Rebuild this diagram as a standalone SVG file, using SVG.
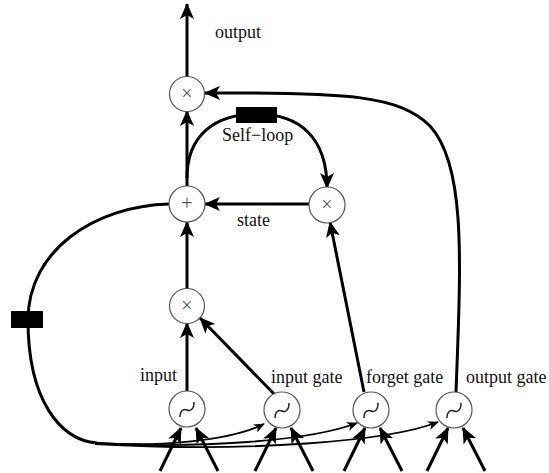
<svg xmlns="http://www.w3.org/2000/svg" width="549" height="473" viewBox="0 0 549 473">
<defs>
<marker id="ah" markerUnits="userSpaceOnUse" markerWidth="16" markerHeight="14" refX="15" refY="7" orient="auto"><path d="M0,0 L16,7 L0,14 L4,7 Z" fill="#000"/></marker>
<marker id="ahs" markerUnits="userSpaceOnUse" markerWidth="11" markerHeight="9" refX="10" refY="4.5" orient="auto"><path d="M0,0 L11,4.5 L0,9 L3,4.5 Z" fill="#000"/></marker>
<style>
.n{fill:#fff;stroke:#555;stroke-width:1.2}
.sym{font-family:"Liberation Serif",serif;font-size:20px;fill:#555;text-anchor:middle}
.lbl{font-family:"Liberation Serif",serif;font-size:18px;fill:#111}
.c{fill:none;stroke:#000;stroke-width:3}
.cb{fill:none;stroke:#000;stroke-width:1.8}
.sig{fill:none;stroke:#222;stroke-width:1.5}
</style>
</defs>
<g id="connectors">
<line class="c" x1="187" y1="76" x2="187" y2="4" marker-end="url(#ah)"/>
<line class="c" x1="187" y1="186" x2="187" y2="111" marker-end="url(#ah)"/>
<path class="c" d="M187,178 C187,135 215,114 257,114 C300,114 327,138 327,188" marker-end="url(#ah)"/>
<line class="c" x1="309" y1="204" x2="205" y2="204" marker-end="url(#ah)"/>
<line class="c" x1="364" y1="392" x2="330" y2="222" marker-end="url(#ah)"/>
<path class="c" d="M456,392 C461,260 466,165 430,126 C400,96 350,92 205,93" marker-end="url(#ah)"/>
<line class="c" x1="187" y1="290" x2="187" y2="222" marker-end="url(#ah)"/>
<line class="c" x1="187" y1="391" x2="187" y2="323" marker-end="url(#ah)"/>
<line class="c" x1="275" y1="395" x2="200" y2="318" marker-end="url(#ah)"/>
<path class="c" d="M169,204 C95,206 28,250 28,320 C28,400 60,440 97,443"/>
<path class="cb" d="M95,443 C160,447 230,441 264,424" marker-end="url(#ahs)"/>
<path class="cb" d="M95,443 C200,449 310,441 357,423" marker-end="url(#ahs)"/>
<path class="cb" d="M95,444 C250,453 390,441 438,422" marker-end="url(#ahs)"/>
<line class="c" x1="160" y1="471" x2="181" y2="428" marker-end="url(#ah)"/>
<line class="c" x1="218" y1="471" x2="196" y2="428" marker-end="url(#ah)"/>
<line class="c" x1="255" y1="471" x2="276" y2="428" marker-end="url(#ah)"/>
<line class="c" x1="313" y1="471" x2="291" y2="428" marker-end="url(#ah)"/>
<line class="c" x1="344" y1="471" x2="365" y2="428" marker-end="url(#ah)"/>
<line class="c" x1="402" y1="471" x2="380" y2="428" marker-end="url(#ah)"/>
<line class="c" x1="427" y1="471" x2="448" y2="428" marker-end="url(#ah)"/>
<line class="c" x1="485" y1="471" x2="463" y2="428" marker-end="url(#ah)"/>
<rect x="236" y="107" width="41" height="16" fill="#000"/>
<rect x="11" y="311" width="32" height="17" fill="#000"/>
</g>
<g id="out-mul"><circle class="n" cx="187" cy="94" r="17.5"/><text class="sym" x="187" y="100">×</text></g>
<g id="plus"><circle class="n" cx="187" cy="204" r="18"/><text class="sym" x="187" y="210">+</text></g>
<g id="self-mul"><circle class="n" cx="327" cy="205" r="18"/><text class="sym" x="327" y="211">×</text></g>
<g id="in-mul"><circle class="n" cx="187" cy="306" r="17.5"/><text class="sym" x="187" y="312">×</text></g>
<g id="input-node"><circle class="n" cx="187" cy="409" r="18"/><path class="sig" d="M180,417 C180,409 185,409 187,410 C189,411 194,411 194,402"/></g>
<g id="input-gate"><circle class="n" cx="282" cy="410" r="18"/><path class="sig" d="M275,418 C275,410 280,410 282,411 C284,412 289,412 289,403"/></g>
<g id="forget-gate"><circle class="n" cx="371" cy="410" r="18"/><path class="sig" d="M364,418 C364,410 369,410 371,411 C373,412 378,412 378,403"/></g>
<g id="output-gate"><circle class="n" cx="454" cy="410" r="18"/><path class="sig" d="M447,418 C447,410 452,410 454,411 C456,412 461,412 461,403"/></g>
<g id="labels">
<text class="lbl" x="215" y="38">output</text>
<text class="lbl" x="222" y="141">Self−loop</text>
<text class="lbl" x="237" y="226">state</text>
<text class="lbl" x="140" y="381">input</text>
<text class="lbl" x="271" y="383">input gate</text>
<text class="lbl" x="366" y="383">forget gate</text>
<text class="lbl" x="466" y="383">output gate</text>
</g>
</svg>
